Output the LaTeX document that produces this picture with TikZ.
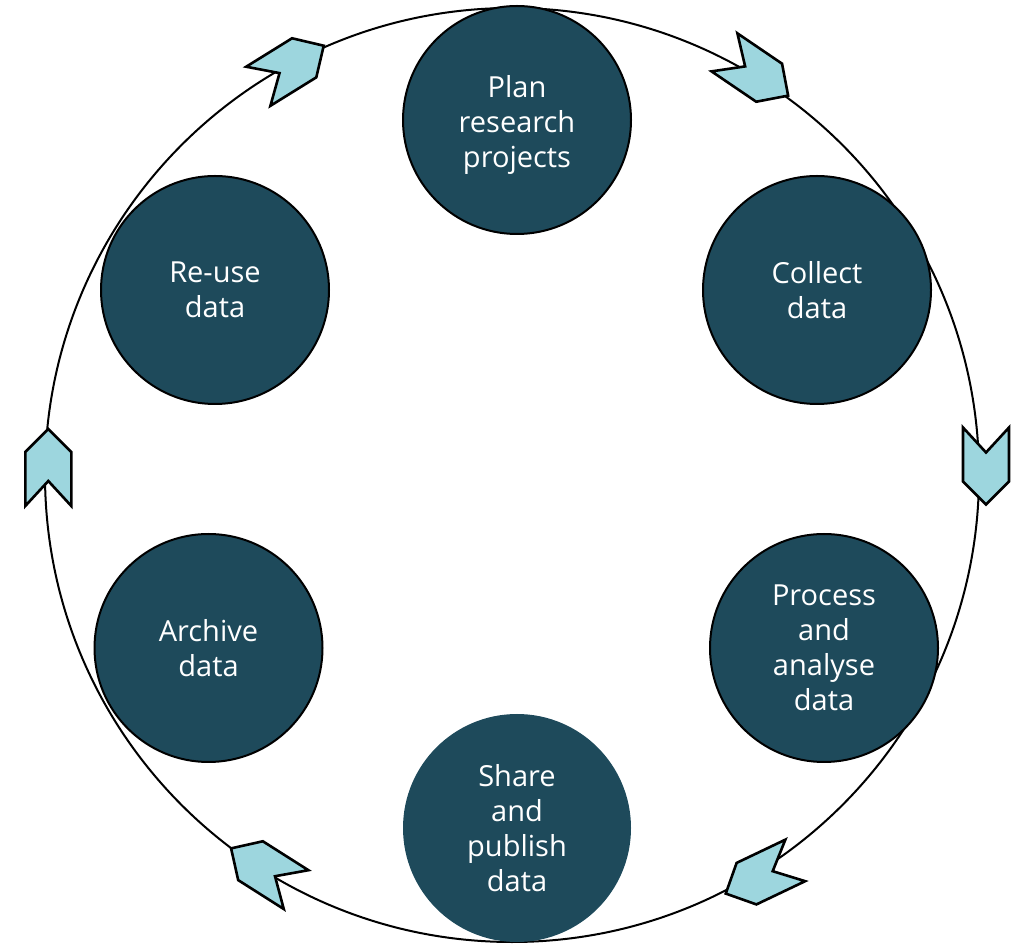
\documentclass[tikz,border=0pt]{standalone}
\usepackage{fontspec}
\setmainfont{Open Sans}
\definecolor{nodeteal}{HTML}{1E4A5B}
\definecolor{chevblue}{HTML}{9DD6DE}
\tikzset{
  stage/.style={circle, draw=black, line width=2pt, fill=nodeteal, minimum size=228pt,
    inner sep=0pt, text=white, align=center, font=\fontsize{29}{35}\selectfont},
  stagetext/.style={inner sep=0pt, text=white, align=center, font=\fontsize{29}{35}\selectfont},
  chev/.style={draw=black, line width=2.6pt, fill=chevblue, line join=miter},
  ring/.style={draw=black, line width=2pt}
}
\newcommand\mychevron[3]{%
  \begin{scope}[shift={(#1,#2)}, rotate=#3]
    \draw[chev] (-38.5,23) -- (-13.5,0) -- (-38.5,-23) -- (15.5,-23) -- (38.5,0) -- (15.5,23) -- cycle;
  \end{scope}}
\begin{document}
\begin{tikzpicture}[x=1pt,y=1pt]
  \useasboundingbox (0,0) rectangle (1022,945);
  \draw[ring] (512,470) circle (467);
  \mychevron{756.3}{871}{-34.2}
  \mychevron{986}{479}{-90}
  \mychevron{760.5}{68}{-154.5}
  \mychevron{263.6}{76}{147.6}
  \mychevron{48.3}{477.5}{90}
  \mychevron{291}{879}{31.8}
  \node[stage] (plan) at (517,825) {};
  \node[stagetext] (plantext) at (517,820) {Plan\\research\\projects};
  \node[stage] (collect) at (817,655) {Collect\\data};
  \node[stage] (process) at (824,297) {Process\\and\\analyse\\data};
  \node[stage, draw=none] (share) at (517,117) {Share\\and\\publish\\data};
  \node[stage] (archive) at (208.5,297) {Archive\\data};
  \node[stage] (reuse) at (215,655) {Re-use\\data};
\end{tikzpicture}
\end{document}
